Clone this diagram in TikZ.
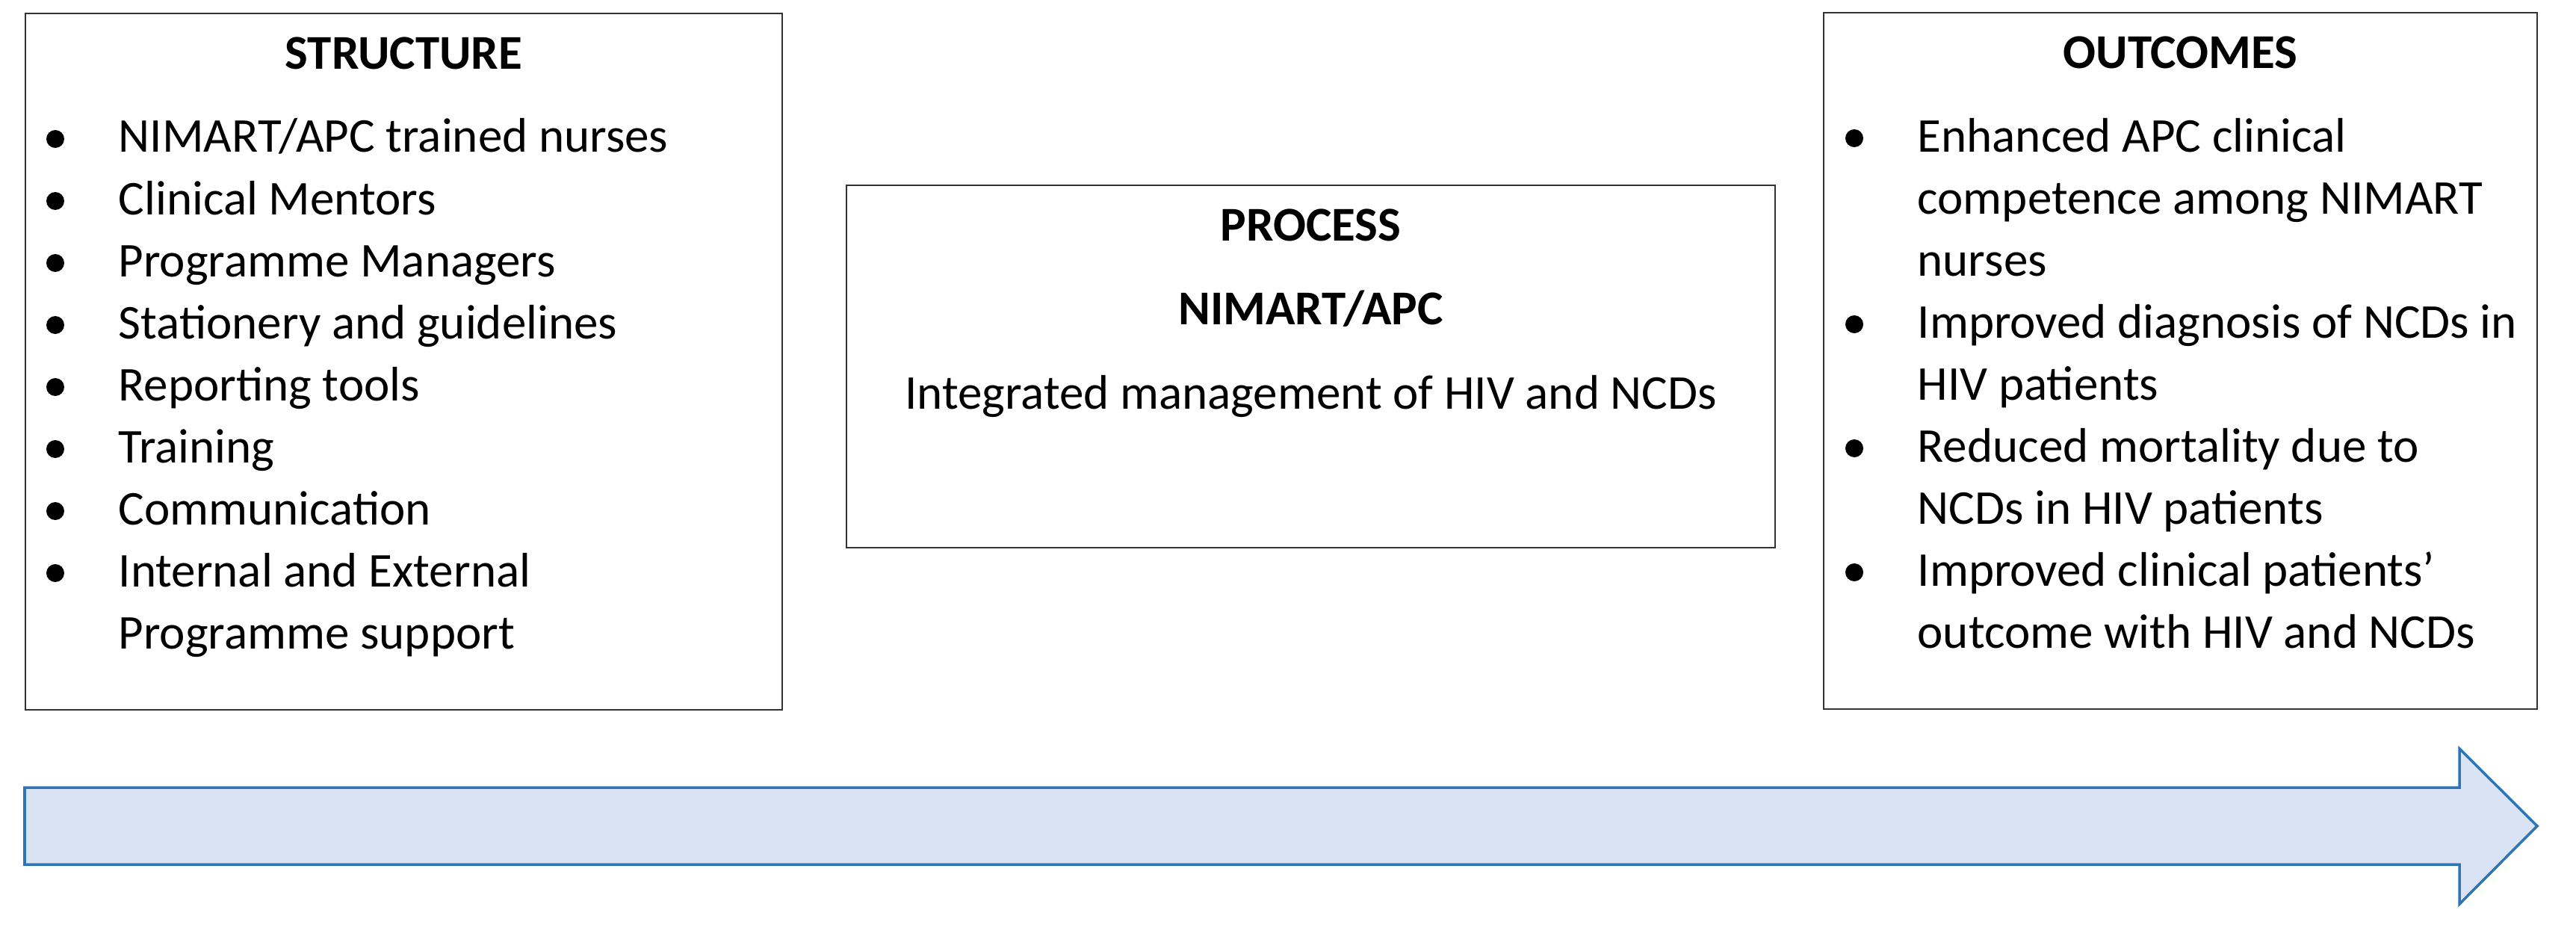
\documentclass[tikz,border=0pt]{standalone}
\usepackage{fontspec}
\setmainfont{Carlito}
\usetikzlibrary{positioning}
\definecolor{arrowfill}{HTML}{DAE3F3}
\definecolor{arrowline}{HTML}{2E75B6}
\tikzset{
    node distance=0.86cm, % gap between the boxes
    }

\begin{document}
\begin{tikzpicture}[
panel/.style={rectangle, draw=black!80, line width=0.8pt, inner sep=0pt, outer sep=0pt},
heading/.style={anchor=base, inner sep=0pt, font=\fontsize{18.5pt}{23.6pt}\selectfont\bfseries},
item/.style={anchor=base west, align=left, inner sep=0pt, font=\fontsize{18.5pt}{23.6pt}\selectfont},
bodytext/.style={anchor=base, inner sep=0pt, font=\fontsize{18.5pt}{23.6pt}\selectfont},
timeline/.style={draw=arrowline, fill=arrowfill, line width=1pt, line join=miter},
]
\useasboundingbox (0,0) rectangle (34.48,12.37);

% the three boxes
\node[panel, minimum width=10.13cm, minimum height=9.32cm] (structure) at (5.405,7.53) {};
\node[panel, minimum width=12.43cm, minimum height=4.85cm] (process) [right=of structure, yshift=-0.065cm] {};
\node[panel, minimum width=9.55cm, minimum height=9.32cm] (outcomes) [right=0.65cm of process, yshift=0.075cm] {};

% structure (row of the bullet / row of the last line)
\node[heading] (structhead) at ([yshift=-0.74cm]structure.north) {STRUCTURE};
\foreach \row/\last/\txt in {0/0/{NIMART/APC trained nurses}, 1/1/{Clinical Mentors}, 2/2/{Programme Managers},
  3/3/{Stationery and guidelines}, 4/4/{Reporting tools}, 5/5/{Training}, 6/6/{Communication},
  7/8/{Internal and External\\Programme support}}{
  \fill ([xshift=0.40cm, yshift={-1.68cm-\row*0.83cm}]structure.north west) circle (0.12cm);
  \node[item] (s\row) at ([xshift=1.24cm, yshift={-1.86cm-\last*0.83cm}]structure.north west) {\txt};
}

% process
\node[heading] (prochead) at ([yshift=-0.74cm]process.north) {PROCESS};
\node[heading] (procname) at ([yshift=-1.86cm]process.north) {NIMART/APC};
\node[bodytext] (procdesc) at ([yshift=-2.99cm]process.north) {Integrated management of HIV and NCDs};

% outcomes
\node[heading] (outhead) at ([yshift=-0.74cm]outcomes.north) {OUTCOMES};
\foreach \row/\last/\txt in {0/2/{Enhanced APC clinical\\competence among NIMART\\nurses},
  3/4/{Improved diagnosis of NCDs in\\HIV patients}, 5/6/{Reduced mortality due to\\NCDs in HIV patients},
  7/8/{Improved clinical patients'\\outcome with HIV and NCDs}}{
  \fill ([xshift=0.41cm, yshift={-1.68cm-\row*0.83cm}]outcomes.north west) circle (0.12cm);
  \node[item] (o\row) at ([xshift=1.25cm, yshift={-1.86cm-\last*0.83cm}]outcomes.north west) {\txt};
}

% big arrow underneath
\draw[timeline] (0.33,1.83) -- (32.92,1.83) -- (32.92,2.35) -- (33.96,1.315)
  -- (32.92,0.27) -- (32.92,0.80) -- (0.33,0.80) -- cycle;
\end{tikzpicture}
\end{document}
